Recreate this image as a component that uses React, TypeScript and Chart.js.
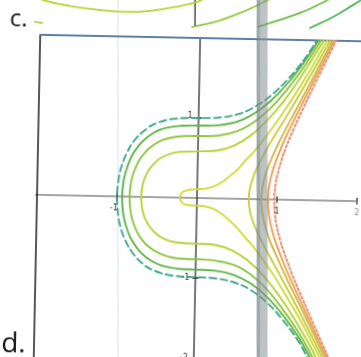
import React, { useEffect, useRef } from 'react';
import { Chart, registerables } from 'chart.js';

Chart.register(...registerables);

type Pt = [number, number];

// ---- level curves of the plotted surface (x, y), bottom end -> top end ----
const levelTeal: Pt[] = [
  [1.536, -2.15], [1.44, -2.0], [1.3, -1.76], [1.1, -1.5], [0.9, -1.29], [0.7, -1.14], [0.5, -1.05],
  [0.25, -1.0], [0, -0.99], [-0.3, -0.975], [-0.5, -0.925], [-0.65, -0.845], [-0.8, -0.69], [-0.9, -0.515],
  [-0.95, -0.375], [-0.98, -0.24], [-1.0, 0], [-0.98, 0.245], [-0.95, 0.38], [-0.9, 0.52], [-0.8, 0.7],
  [-0.65, 0.85], [-0.5, 0.935], [-0.3, 0.985], [0, 1.0], [0.25, 1.01], [0.5, 1.06], [0.7, 1.155],
  [0.9, 1.3], [1.1, 1.5], [1.3, 1.75], [1.46, 2.0],
];
const levelGreen: Pt[] = [
  [1.56, -2.15], [1.47, -2.0], [1.3, -1.71], [1.1, -1.44], [0.9, -1.22], [0.7, -1.06], [0.5, -0.96],
  [0.25, -0.905], [0, -0.895], [-0.2, -0.89], [-0.4, -0.86], [-0.55, -0.8], [-0.7, -0.685], [-0.8, -0.55],
  [-0.85, -0.45], [-0.9, -0.3], [-0.925, -0.17], [-0.936, 0], [-0.925, 0.17], [-0.9, 0.3], [-0.85, 0.455],
  [-0.8, 0.555], [-0.7, 0.69], [-0.55, 0.81], [-0.4, 0.87], [-0.2, 0.9], [0, 0.906], [0.25, 0.914],
  [0.5, 0.97], [0.7, 1.075], [0.9, 1.235], [1.1, 1.45], [1.3, 1.72], [1.48, 2.0],
];
const levelLightGreen: Pt[] = [
  [1.59, -2.15], [1.505, -2.0], [1.3, -1.65], [1.1, -1.37], [0.9, -1.13], [0.7, -0.95], [0.5, -0.835],
  [0.25, -0.78], [0, -0.765], [-0.1, -0.765], [-0.3, -0.75], [-0.45, -0.705], [-0.6, -0.615], [-0.7, -0.505],
  [-0.75, -0.42], [-0.8, -0.297], [-0.83, -0.168], [-0.843, 0], [-0.83, 0.168], [-0.8, 0.297], [-0.75, 0.422],
  [-0.7, 0.507], [-0.6, 0.62], [-0.45, 0.713], [-0.3, 0.757], [-0.1, 0.774], [0, 0.775], [0.25, 0.785],
  [0.5, 0.851], [0.7, 0.968], [0.9, 1.145], [1.1, 1.38], [1.3, 1.66], [1.51, 2.0],
];
const levelYellowGreen: Pt[] = [
  [1.624, -2.15], [1.541, -2.0], [1.45, -1.82], [1.25, -1.49], [1.05, -1.2], [0.85, -0.955], [0.65, -0.77],
  [0.45, -0.645], [0.25, -0.585], [0, -0.57], [-0.25, -0.56], [-0.4, -0.52], [-0.5, -0.46], [-0.6, -0.35],
  [-0.65, -0.256], [-0.68, -0.16], [-0.698, 0], [-0.68, 0.16], [-0.65, 0.256], [-0.6, 0.352], [-0.5, 0.464],
  [-0.4, 0.525], [-0.25, 0.57], [0, 0.583], [0.25, 0.6], [0.45, 0.665], [0.65, 0.79], [0.85, 0.98],
  [1.05, 1.22], [1.25, 1.51], [1.45, 1.84], [1.545, 2.0],
];
const levelYellow: Pt[] = [
  [1.664, -2.15], [1.586, -2.0], [1.4, -1.64], [1.2, -1.3], [1.0, -0.98], [0.85, -0.77], [0.7, -0.575],
  [0.6, -0.47], [0.5, -0.355], [0.4, -0.262], [0.3, -0.185], [0.2, -0.13], [0.1, -0.103], [0, -0.095],
  [-0.1, -0.09], [-0.17, -0.075], [-0.2, -0.045], [-0.215, 0], [-0.2, 0.05], [-0.17, 0.08], [-0.1, 0.1],
  [0, 0.11], [0.1, 0.117], [0.2, 0.145], [0.3, 0.2], [0.4, 0.278], [0.5, 0.367], [0.6, 0.486],
  [0.7, 0.594], [0.85, 0.79], [1.0, 1.005], [1.2, 1.318], [1.4, 1.659], [1.586, 2.0],
];
const levelOlive: Pt[] = [
  [1.698, -2.15], [1.622, -2.0], [1.5, -1.76], [1.35, -1.475], [1.2, -1.2], [1.05, -0.935], [0.95, -0.76],
  [0.86, -0.6], [0.78, -0.45], [0.72, -0.32], [0.68, -0.21], [0.66, -0.13], [0.646, 0], [0.66, 0.135],
  [0.68, 0.22], [0.72, 0.34], [0.78, 0.47], [0.86, 0.63], [0.95, 0.79], [1.05, 0.96], [1.2, 1.22],
  [1.35, 1.49], [1.5, 1.765], [1.622, 2.0],
];
const levelAmber: Pt[] = [
  [1.726, -2.15], [1.653, -2.0], [1.5, -1.69], [1.35, -1.39], [1.2, -1.1], [1.1, -0.9], [1.0, -0.69],
  [0.92, -0.51], [0.87, -0.37], [0.83, -0.228], [0.81, -0.107], [0.804, 0], [0.81, 0.107], [0.83, 0.228],
  [0.87, 0.372], [0.92, 0.509], [1.0, 0.693], [1.1, 0.901], [1.2, 1.099], [1.35, 1.393], [1.5, 1.69],
  [1.653, 2.0],
];
const levelOrange: Pt[] = [
  [1.746, -2.15], [1.675, -2.0], [1.5, -1.636], [1.35, -1.327], [1.2, -1.014], [1.1, -0.794], [1.0, -0.548],
  [0.96, -0.43], [0.93, -0.323], [0.9, -0.17], [0.888, 0], [0.9, 0.17], [0.93, 0.323], [0.96, 0.43],
  [1.0, 0.548], [1.1, 0.794], [1.2, 1.014], [1.35, 1.327], [1.5, 1.636], [1.675, 2.0],
];
const levelSalmon: Pt[] = [
  [1.767, -2.15], [1.698, -2.0], [1.6, -1.788], [1.45, -1.466], [1.3, -1.139], [1.2, -0.91], [1.1, -0.657],
  [1.05, -0.508], [1.0, -0.316], [0.98, -0.203], [0.9655, 0], [0.98, 0.203], [1.0, 0.316], [1.05, 0.508],
  [1.1, 0.657], [1.2, 0.91], [1.3, 1.139], [1.45, 1.466], [1.6, 1.788], [1.698, 2.0],
];

// ---- remnants of the figure above ("c.") ----
const prevArc: Pt[] = [
  [-2.04, 2.49], [-1.975, 2.437], [-1.636, 2.368], [-1.26, 2.326], [-0.947, 2.307], [-0.634, 2.326],
  [-0.323, 2.382], [-0.012, 2.463], [0.05, 2.52],
];
const prevDash: Pt[] = [[-2.07, 2.16], [-1.98, 2.15]];
const prevAxis: Pt[] = [[-0.077, 2.62], [-0.068, 2.16]];
const prevLineA: Pt[] = [[-0.105, 2.136], [0.181, 2.205], [0.491, 2.323], [0.764, 2.454], [0.9, 2.53]];
const prevLineB: Pt[] = [[0.72, 2.153], [1.241, 2.338], [1.514, 2.469], [1.65, 2.55]];
const prevLineC: Pt[] = [[1.37, 2.153], [1.655, 2.297], [1.902, 2.4515], [2.1, 2.58]];

// ---- frame, axes and page ----
const frameTop: Pt[] = [[-2.0, 2.0], [2.25, 2.0]];
const frameLeft: Pt[] = [[-2.0, 2.0], [-2.0, -2.2]];
const axisX: Pt[] = [[-2.02, 0], [1.98, 0]];
const axisY: Pt[] = [[0, 2.0], [0, -2.2]];
const gutter: Pt[] = [[0.857, -2.2], [0.76, 2.65]];
const pageRule: Pt[] = [[-0.944, -2.2], [-1.041, 2.65]];

const xTickValues = [-1, 1, 2];
const xTickLabels = ['-1', '1', '2'];
const yTickValues = [1, -1, -2];
const yTickLabels = ['1', '-1', '-2'];

const X_MIN = -2.5875;
const X_MAX = 2.175;
const Y_MIN = -2.1125;
const Y_MAX = 2.6;

function line(pts: Pt[], color: string, width: number, opts: any = {}) {
  return {
    data: pts.map(([x, y]) => ({ x, y })),
    showLine: true,
    borderColor: color,
    backgroundColor: color,
    borderWidth: width,
    pointRadius: 0,
    pointHoverRadius: 0,
    tension: 0.4,
    fill: false,
    borderCapStyle: 'round',
    borderJoinStyle: 'round',
    order: 0,
    ...opts,
  };
}

const textPlugin = {
  id: 'pageText',
  afterDatasetsDraw(chart: any) {
    const { ctx, scales } = chart;
    const xs = scales.x;
    const ys = scales.y;
    ctx.save();
    ctx.fillStyle = '#151515';
    ctx.textBaseline = 'alphabetic';
    ctx.textAlign = 'left';
    ctx.font = '24px "Open Sans"';
    ctx.fillText('c.', xs.getPixelForValue(-2.385), ys.getPixelForValue(2.1));
    ctx.font = '28px "Open Sans"';
    ctx.fillText('d.', xs.getPixelForValue(-2.41), ys.getPixelForValue(-1.97));

    ctx.font = '8px "DejaVu Sans"';
    ctx.fillStyle = '#333';
    ctx.textAlign = 'center';
    ctx.textBaseline = 'middle';
    xTickValues.forEach((v, i) => {
      ctx.fillStyle = v === 2 ? '#888' : '#333';
      ctx.fillText(xTickLabels[i], xs.getPixelForValue(v) - (v < 0 ? 3 : 0), ys.getPixelForValue(0) + 12);
    });
    ctx.textAlign = 'right';
    ctx.fillStyle = '#333';
    yTickValues.forEach((v, i) => {
      ctx.fillText(yTickLabels[i], xs.getPixelForValue(0) - 6, ys.getPixelForValue(v) - (v > 0 ? 2 : 0));
    });
    ctx.restore();
  },
};

export default function App() {
  const ref = useRef<HTMLCanvasElement>(null);

  useEffect(() => {
    if (!ref.current) return;
    const straight = { tension: 0 };
    const datasets: any[] = [
      // page shading on top
      line(gutter, 'rgba(135,146,148,0.55)', 11, { ...straight, order: -3, borderCapStyle: 'butt' }),
      line(gutter.map(([x, y]) => [x - 0.045, y] as Pt), 'rgba(105,116,118,0.35)', 3, { ...straight, order: -4, borderCapStyle: 'butt' }),

      // contour curves
      line(levelTeal, '#3fa98d', 1.9, { borderDash: [7, 4] }),
      line(levelGreen, '#5fb547', 1.9),
      line(levelLightGreen, '#8ec63f', 1.9),
      line(levelYellowGreen, '#b5d334', 1.9),
      line(levelYellow, '#cfdc3a', 1.9),
      line(levelOlive, '#c4cf3c', 1.9),
      line(levelAmber, '#d4b648', 1.9),
      line(levelOrange, '#e9a253', 1.9),
      line(levelSalmon, '#ef8a6c', 2, { borderDash: [2, 2.5] }),

      // figure above
      line(prevArc, '#b8d432', 1.8, { order: 1 }),
      line(prevDash, '#a8d050', 1.8, { order: 1 }),
      line(prevAxis, '#1e1e1e', 1.2, { ...straight, order: 1 }),
      line(prevLineA, '#93c940', 1.8, { order: 1 }),
      line(prevLineB, '#6cbf4a', 1.8, { order: 1 }),
      line(prevLineC, '#52b556', 1.8, { order: 1 }),

      // frame and axes
      line(frameTop, '#5f80a4', 2, { ...straight, order: 2 }),
      line(frameLeft, '#202020', 1.5, { ...straight, order: 2 }),
      line(axisX, '#4a4a4a', 1.2, { ...straight, order: 2 }),
      line(axisY, '#1e1e1e', 1.2, { ...straight, order: 2 }),
      ...xTickValues.map((t) => line([[t, -0.035], [t, 0.035]], '#333', 1.3, { ...straight, order: 2 })),
      ...yTickValues.map((t) => line([[-0.035, t], [0.035, t]], '#333', 1.3, { ...straight, order: 2 })),

      // faint page rule underneath
      line(pageRule, '#dde4e8', 1, { ...straight, order: 5 }),
    ];

    const chart = new Chart(ref.current, {
      type: 'scatter',
      data: { datasets },
      options: {
        responsive: false,
        animation: false,
        devicePixelRatio: 1,
        events: [],
        layout: { padding: 0 },
        plugins: {
          legend: { display: false },
          tooltip: { enabled: false },
          title: { display: false },
        },
        scales: {
          x: { type: 'linear', min: X_MIN, max: X_MAX, display: false },
          y: { type: 'linear', min: Y_MIN, max: Y_MAX, display: false },
        },
      },
      plugins: [textPlugin],
    } as any);
    return () => chart.destroy();
  }, []);

  return (
    <div
      style={{
        position: 'fixed',
        left: 0,
        top: 0,
        width: 361,
        height: 357,
        overflow: 'hidden',
        background: '#fff',
      }}
    >
      <canvas
        ref={ref}
        width={381}
        height={377}
        style={{
          position: 'absolute',
          left: -10,
          top: -10,
          width: 381,
          height: 377,
          transform: 'rotate(1.15deg)',
          transformOrigin: '207px 208px',
        }}
      />
    </div>
  );
}
